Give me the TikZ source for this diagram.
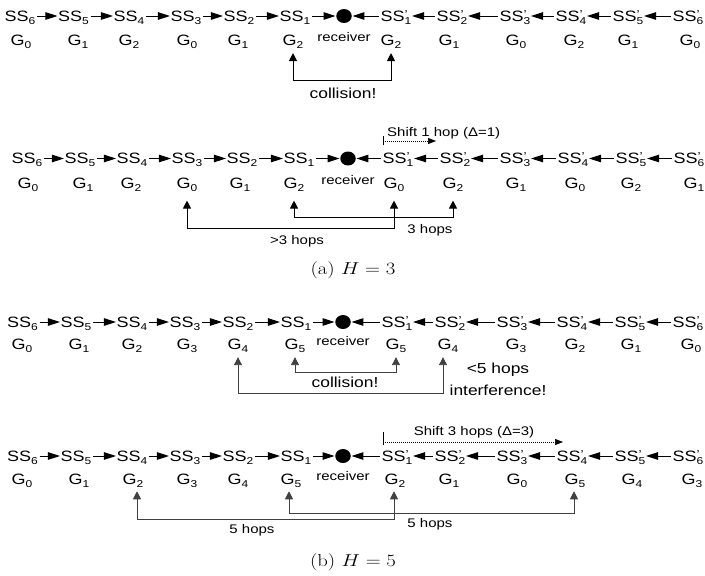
\documentclass[tikz,border=0pt]{standalone}
\usepackage{fontspec}
\usepackage{graphicx}
\usetikzlibrary{arrows.meta,calc,shapes.geometric}

\newfontfamily\dfont{Liberation Sans}[FakeStretch=1.2]
\newcommand{\dsize}[1]{\fontsize{#1}{#1}\selectfont}
\newcommand{\lowsub}[1]{\raisebox{-2.8pt}{\dsize{10}#1}}
\newcommand{\SSn}[1]{SS\lowsub{#1}}
\newcommand{\SSp}[1]{SS\rlap{\raisebox{3.2pt}{\dsize{11.5}’}}\lowsub{#1}}
\newcommand{\Gn}[1]{G\lowsub{#1}}

\tikzset{
  lbl/.style={inner sep=0pt, text height=10.7pt, text depth=0pt, font=\dfont\dsize{15}},
  rcv/.style={inner sep=0pt, text height=6.5pt, text depth=0pt, font=\dfont\dsize{12.5}},
  hops/.style={inner sep=0pt, text height=9pt, text depth=0pt, font=\dfont\dsize{12.5}},
  warn/.style={inner sep=0pt, text height=10.4pt, text depth=0pt, font=\dfont\dsize{14.5}},
  dot/.style={ellipse, fill=black, inner sep=0pt, minimum width=15.5pt, minimum height=14pt},
  arr/.style={-{Triangle[length=12pt,width=7.5pt]}, line width=1pt, shorten <=1.5pt, shorten >=0.5pt},
  brk/.style={{Triangle[length=8pt,width=8pt]}-{Triangle[length=8pt,width=8pt]}, line width=0.9pt},
  shiftarr/.style={-{Triangle[length=8pt,width=6pt]}, line width=0.7pt, dash pattern=on 1pt off 1pt},
  shiftbar/.style={line width=0.6pt},
  capt/.style={inner sep=0pt, font=\dsize{17.28}}
}

% #1 row tag, #2 y of the SS line, #3 y of the G line, #4 x of the receiver,
% #5 left stations n/x/group/gx, #6 right stations n/x/group/gx
\newcommand{\stationrow}[6]{%
  \node[dot] (#1d) at (#4,#2) {};
  \node[rcv] (#1r) at (#4,#3-2) {receiver};
  \foreach \n/\x/\g/\gx in {#5}{
    \node[lbl] (#1s\n) at (\x,#2) {\SSn{\n}};
    \node[lbl] (#1g\n) at (\gx,#3) {\Gn{\g}};
  }
  \foreach \n/\x/\g/\gx in {#6}{
    \node[lbl] (#1p\n) at (\x,#2) {\SSp{\n}};
    \node[lbl] (#1h\n) at (\gx,#3) {\Gn{\g}};
  }
  \foreach \m/\n in {6/5,5/4,4/3,3/2,2/1}{
    \draw[arr] (#1s\m) -- (#1s\n);
    \draw[arr] (#1p\m) -- (#1p\n);
  }
  \draw[arr] (#1s1) -- (#1d);
  \draw[arr] (#1p1) -- (#1d);
}

\begin{document}
\begin{tikzpicture}[x=1pt,y=-1pt]
\useasboundingbox (0,0) rectangle (705,576);

% ---------- (a) H = 3, first assignment ----------
\stationrow{a}{16}{40}{344}
  {6/20/0/21,5/73.5/1/78,4/129/2/129,3/186/0/187,2/239/1/238,1/295/2/293}
  {1/396/2/391,2/452/1/449,3/515/0/516,4/571/2/574,5/628/1/628,6/688/0/690}
\draw[brk] ([yshift=-7.5pt]ag1.south) -- ++(0,27.2) -| ([yshift=-7.5pt]ah1.south);
\node[warn] (acol) at (343,93) {collision!};

% ---------- (a) H = 3, shifted by one hop ----------
\stationrow{b}{158.5}{183}{348}
  {6/27/0/28,5/80/1/83,4/132/2/131,3/187/0/187,2/242/1/240,1/299/2/294}
  {1/398/0/394,2/455/2/453,3/515/1/516,4/573/0/575,5/631/2/631,6/689/1/694}
\draw[brk] ([yshift=-12pt]bg3.south) -- ++(0,28) -| ([yshift=-12pt]bh1.south);
\draw[brk] ([yshift=-12pt]bg1.south) -- ++(0,17) -| ([yshift=-12pt]bh2.south);
\node[hops] (bfar) at (297,240) {>3 hops};
\node[hops] (bnear) at (430,229) {3 hops};
\coordinate (bsh0) at (383,141);
\coordinate (bsh1) at (436,141);
\draw[shiftbar] ([yshift=5pt]bsh0) -- ([yshift=-4pt]bsh0);
\draw[shiftarr] (bsh0) -- (bsh1);
\node[hops, anchor=west] (bshift) at (387,132) {Shift 1 hop (Δ=1)};

\node[capt] (capa) at (353,270) {\scalebox{1.2}[1]{(a)~$H=3$}};

% ---------- (b) H = 5, first assignment ----------
\stationrow{c}{322}{344}{343}
  {6/22.5/0/22,5/76/1/79,4/132/2/132,3/185/3/187,2/238/4/238,1/296/5/295}
  {1/397/5/396,2/450/4/448,3/512/3/516,4/572/2/575,5/630/1/631,6/688/0/691}
\begin{scope}[draw=black!75]
\draw[brk] ([yshift=-7.6pt]cg1.south) -- ++(0,15) -| ([yshift=-7.6pt]ch1.south);
\draw[brk] ([yshift=-7.6pt]cg2.south) -- ++(0,36) -| ([xshift=-5pt,yshift=-7.6pt]ch2.south);
\end{scope}
\node[warn] (ccol) at (345,382) {collision!};
\node[warn] (cless) at (498,368) {<5 hops};
\node[warn] (cintf) at (498,390) {interference!};

% ---------- (b) H = 5, shifted by three hops ----------
\stationrow{d}{456}{479}{343}
  {6/22.5/0/22,5/76/1/79,4/132/2/133,3/185/3/187,2/238/4/238,1/296/5/291}
  {1/397/2/395,2/450/1/449,3/512/0/517,4/572/5/575,5/630/4/632,6/688/3/692}
\begin{scope}[draw=black!75]
\draw[brk] ([xshift=-2pt,yshift=-6.7pt]dg1.south) -- ++(0,21.7) -| ([xshift=-1pt,yshift=-6.7pt]dh4.south);
\draw[brk] ([xshift=4pt,yshift=-6.7pt]dg4.south) -- ++(0,28) -| ([xshift=-1pt,yshift=-6.7pt]dh1.south);
\end{scope}
\node[hops] (dfar) at (252,529) {5 hops};
\node[hops] (dnear) at (430,523) {5 hops};
\coordinate (dsh0) at (383,442);
\coordinate (dsh1) at (563,442);
\draw[shiftbar] ([yshift=10pt]dsh0) -- ([yshift=-3pt]dsh0);
\draw[shiftarr] (dsh0) -- (dsh1);
\node[hops] (dshift) at (474,431) {Shift 3 hops (Δ=3)};

\node[capt] (capb) at (353,562) {\scalebox{1.2}[1]{(b)~$H=5$}};
\end{tikzpicture}
\end{document}
